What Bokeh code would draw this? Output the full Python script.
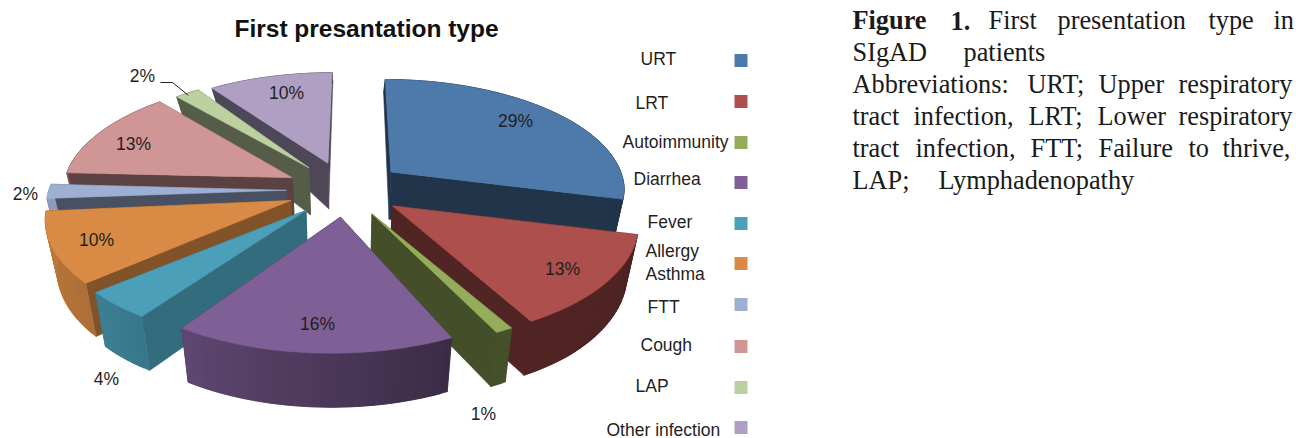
import numpy as np
from bokeh.plotting import figure
from bokeh.models import Range1d
from bokeh.core.properties import value
from bokeh.embed import file_html
from bokeh.resources import INLINE

# ---- data ----
categories = ["URT", "LRT", "Autoimmunity", "Diarrhea", "Fever", "Allergy\nAsthma",
              "FTT", "Cough", "LAP", "Other infection"]
percent = [29, 13, 1, 16, 4, 10, 2, 13, 2, 10]
top_colors = ["#4e7aab", "#ad4f4d", "#95ad5a", "#7e5f96", "#4b9fb8",
              "#d98b45", "#9db0d4", "#d09695", "#bdd0a0", "#ae9fc3"]
wall_shade = [0.43, 0.47, 0.46, 0.47, 0.68, 0.60, 0.46, 0.44, 0.45, 0.45]
rim_dx = [0, 3, 5, -4, -6, -2, 0, 6, 6, 2]
rim_dy = [0, -1, -5, -4, -7, -4, -6, -5, -2, 0]
label_x = [515, 562, 483, 317, 106, 96, 25, 133, 142, 286]
label_y = [120, 268, 413, 323, 378, 239, 193, 143, 75, 92]
legend_x = [640, 635, 622, 633, 647, 645, 647, 640, 635, 606]
legend_y = [58, 102, 141, 178, 221, 250, 306, 344, 385, 429]
swatch_y = [60, 101, 142, 182, 223, 263, 304, 346, 387, 427]
title = "First presantation type"
caption_words = [
    ("Figure", 852, 20, True), ("1.", 950, 20, True), ("First", 988, 20, False),
    ("presentation", 1057, 20, False), ("type", 1208, 20, False), ("in", 1273, 20, False),
    ("SIgAD", 852, 52, False), ("patients", 963, 52, False),
    ("Abbreviations:", 852, 84, False), ("URT;", 1027, 84, False), ("Upper", 1098, 84, False),
    ("respiratory", 1178, 84, False),
    ("tract", 852, 116, False), ("infection,", 913, 116, False), ("LRT;", 1028, 116, False),
    ("Lower", 1097, 116, False), ("respiratory", 1178, 116, False),
    ("tract", 852, 148, False), ("infection,", 915, 148, False), ("FTT;", 1030, 148, False),
    ("Failure", 1098, 148, False), ("to", 1188, 148, False), ("thrive,", 1222, 148, False),
    ("LAP;", 852, 180, False), ("Lymphadenopathy", 938, 180, False),
]

# ---- projection of the exploded pie ----
CX, CY = 345, 188
A, B, K = 235, 110.4, 0.146
SHEAR = 5
EXPLODE = 0.25


def project(u, v):
    v = np.asarray(v, dtype=float)
    s = 1 + K * v
    return CX + A * np.asarray(u) / s + SHEAR * np.minimum(v, 0), CY - B * v / s


def depth(v):
    return np.interp(v, [-1.25, -0.9, 0.2, 1.25], [54, 54, 47, 10])


def lower(u, v):
    x, y = project(u, v)
    return CX + (x - CX) * 0.96, y + depth(v)


def shade(hex_color, f):
    rgb = [int(hex_color[i:i + 2], 16) for i in (1, 3, 5)]
    return "#%02x%02x%02x" % tuple(int(c * f) for c in rgb)


def arc_factor(theta):
    return np.interp(theta, [100, 155, 212, 226, 270, 271], [0.45, 0.47, 0.75, 0.80, 0.90, 0.45])


edges = np.concatenate([[0], np.cumsum(percent)]) * 3.6
slices = []
for i in range(len(percent)):
    a0, a1 = edges[i], edges[i + 1]
    mid = np.radians((a0 + a1) / 2)
    slices.append((EXPLODE * np.cos(mid), i, a0, a1, EXPLODE * np.sin(mid)))
slices.sort(key=lambda t: -t[0])

xs, ys, fills = [], [], []


def add(x, y, c):
    xs.append(list(map(float, x)))
    ys.append(list(map(float, y)))
    fills.append(c)


for ov, i, a0, a1, ou in slices:
    col = top_colors[i]
    dark = shade(col, wall_shade[i])
    n = max(6, int((a1 - a0) / 1.5))
    th = np.radians(np.linspace(a0, a1, n + 1))
    u = ou + np.sin(th)
    v = ov + np.cos(th)
    ax, ay = project(ou, ov)
    bx, by = lower(ou, ov)
    tx, ty = project(u, v)
    lx, ly = lower(u, v)
    tx, lx = tx + rim_dx[i], lx + rim_dx[i]
    ty, ly = ty + rim_dy[i], ly + rim_dy[i]
    # radial walls
    for k in (0, -1):
        add([ax, tx[k], lx[k], bx], [ay, ty[k], ly[k], by], dark)
    # outer wall, in overlapping strips so that it can shade along the arc
    for k in range(n):
        f = wall_shade[i] if i == 0 else arc_factor(np.degrees((th[k] + th[k + 1]) / 2))
        e = min(k + 2, n)
        idx = list(range(k, e + 1))
        add(list(tx[idx]) + list(lx[idx][::-1]), list(ty[idx]) + list(ly[idx][::-1]), shade(col, f))
    # top
    add(np.concatenate([[ax], tx]), np.concatenate([[ay], ty]), col)

p = figure(width=1296, height=438, output_backend="svg", toolbar_location=None,
           x_range=Range1d(0, 1296), y_range=Range1d(438, 0), min_border=0)
p.axis.visible = False
p.grid.visible = False
p.outline_line_color = None
p.background_fill_color = "#ffffff"

p.patches(xs, ys, fill_color=fills, line_color=fills, line_width=0.6)

SANS = value("Liberation Sans")
SERIF = value("Liberation Serif")
LABEL_SIZE = "17.5px"

# data labels
p.text(label_x, label_y, text=[f"{pc}%" for pc in percent], text_font=SANS, text_font_size=LABEL_SIZE,
       text_color="#1f1f1f", text_align="center", text_baseline="middle")

# leader line of the LAP label
lap = categories.index("LAP")
mid = np.radians((edges[lap] + edges[lap + 1]) / 2)
ex, ey = project((1 + EXPLODE) * np.sin(mid), (1 + EXPLODE) * np.cos(mid))
p.line([label_x[lap] + 18, label_x[lap] + 30, float(ex) + rim_dx[lap] + 1],
       [label_y[lap] + 7, label_y[lap] + 7, float(ey) + rim_dy[lap] + 2],
       line_color="#222222", line_width=1)

# legend
for name, x, y in zip(categories, legend_x, legend_y):
    if "\n" in name:
        a, b = name.split("\n")
        p.text([x, x], [y, y + 23], text=[a, b], text_font=SANS, text_font_size=LABEL_SIZE,
               text_color="#1f1f1f", text_align="left", text_baseline="middle")
    else:
        p.text([x], [y], text=[name], text_font=SANS, text_font_size=LABEL_SIZE,
               text_color="#1f1f1f", text_align="left", text_baseline="middle")
p.rect([740.5] * len(swatch_y), swatch_y, width=13, height=13, fill_color=top_colors, line_color=None)

# title
p.text([366], [28], text=[title], text_font=SANS, text_font_style="bold", text_font_size="24.5px",
       text_color="#111111", text_align="center", text_baseline="middle")

# caption
for w, x, y, bold in caption_words:
    p.text([x], [y], text=[w], text_font=SERIF, text_font_size="26.3px",
           text_font_style="bold" if bold else "normal", text_color="#1a1a1a",
           text_align="left", text_baseline="middle")

open("out.html", "w").write(file_html(p, INLINE))
